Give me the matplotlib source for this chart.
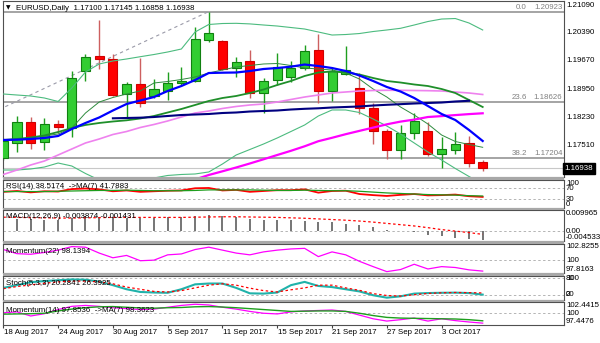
import matplotlib
matplotlib.use("Agg")
import matplotlib.pyplot as plt
import matplotlib.transforms as mtransforms
import numpy as np

plt.rcParams['font.family'] = ['Liberation Sans', 'DejaVu Sans']
plt.rcParams['font.size'] = 5.7

# EURUSD daily, 18 Aug - 6 Oct 2017
date_labels = ["18 Aug 2017", "24 Aug 2017", "30 Aug 2017", "5 Sep 2017", "11 Sep 2017",
               "15 Sep 2017", "21 Sep 2017", "27 Sep 2017", "3 Oct 2017"]
label_every = 4

opens = [1.17188, 1.17585, 1.18120, 1.17610, 1.18053, 1.17952, 1.19418, 1.19792, 1.19708, 1.18817,
         1.19072, 1.18781, 1.18909, 1.19114, 1.19150, 1.20200, 1.20182, 1.19495, 1.19665, 1.18843,
         1.19182, 1.19250, 1.19478, 1.19945, 1.18909, 1.19334, 1.18970, 1.18461, 1.17891, 1.17400,
         1.17825, 1.17883, 1.17298, 1.17400, 1.17570, 1.17100]
highs = [1.17705, 1.18265, 1.18250, 1.18206, 1.18163, 1.19418, 1.19843, 1.20708, 1.19843, 1.19130,
         1.19750, 1.19199, 1.19392, 1.19520, 1.20538, 1.20923, 1.20210, 1.19758, 1.19945, 1.19225,
         1.19861, 1.19674, 1.20072, 1.20344, 1.19520, 1.20046, 1.19352, 1.18603, 1.17926, 1.18036,
         1.18334, 1.18120, 1.17723, 1.17858, 1.17756, 1.17145]
lows = [1.17145, 1.17356, 1.17418, 1.17400, 1.17825, 1.17723, 1.19163, 1.19461, 1.18770, 1.18206,
        1.18486, 1.18715, 1.18672, 1.19050, 1.19120, 1.20157, 1.19436, 1.19249, 1.18714, 1.18349,
        1.19050, 1.19120, 1.19436, 1.18589, 1.18647, 1.19309, 1.18316, 1.17552, 1.17163, 1.17163,
        1.17679, 1.17247, 1.16934, 1.17298, 1.16974, 1.16858]
closes = [1.17636, 1.18120, 1.17590, 1.18061, 1.17985, 1.19224, 1.19774, 1.19715, 1.18799, 1.19072,
          1.18588, 1.18952, 1.19097, 1.19156, 1.20217, 1.20370, 1.19461, 1.19632, 1.18843, 1.19156,
          1.19520, 1.19495, 1.19927, 1.18909, 1.19411, 1.19436, 1.18461, 1.17891, 1.17400, 1.17825,
          1.18138, 1.17298, 1.17417, 1.17545, 1.17061, 1.16938]

ma_blue = [1.17654, 1.17662, 1.17680, 1.17705, 1.17756, 1.17934, 1.18087, 1.18227, 1.18405, 1.18570,
           1.18659, 1.18748, 1.18901, 1.19028, 1.19181, 1.19359, 1.19367, 1.19372, 1.19410, 1.19461,
           1.19486, 1.19520, 1.19575, 1.19537, 1.19486, 1.19410, 1.19296, 1.19156, 1.19003, 1.18888,
           1.18723, 1.18519, 1.18316, 1.18163, 1.17909, 1.17629]
bb_mid = [1.17654, 1.17680, 1.17718, 1.17769, 1.17858, 1.17959, 1.18036, 1.18087, 1.18125, 1.18155,
          1.18201, 1.18265, 1.18354, 1.18443, 1.18545, 1.18647, 1.18723, 1.18774, 1.18850, 1.18939,
          1.19054, 1.19156, 1.19283, 1.19372, 1.19397, 1.19372, 1.19321, 1.19232, 1.19156, 1.19117,
          1.19067, 1.19028, 1.18952, 1.18850, 1.18672, 1.18494]
bb_upper = [1.18825, 1.18799, 1.18774, 1.18723, 1.18634, 1.18977, 1.19385, 1.19589, 1.19665, 1.19716,
            1.19774, 1.19830, 1.19894, 1.19970, 1.20403, 1.20594, 1.20619, 1.20624, 1.20609, 1.20581,
            1.20555, 1.20517, 1.20479, 1.20403, 1.20326, 1.20339, 1.20364, 1.20415, 1.20454, 1.20497,
            1.20581, 1.20670, 1.20733, 1.20746, 1.20632, 1.20454]
bb_lower = [1.16890, 1.16890, 1.16916, 1.16966, 1.17068, 1.16992, 1.16801, 1.16636, 1.16534, 1.16483,
            1.16534, 1.16687, 1.16751, 1.16776, 1.16789, 1.16840, 1.17043, 1.17272, 1.17412, 1.17552,
            1.17705, 1.17870, 1.18036, 1.18265, 1.18418, 1.18418, 1.18354, 1.18188, 1.18010, 1.17806,
            1.17578, 1.17349, 1.17145, 1.16929, 1.16725, 1.16534]
ma_fast = [1.17654, 1.17680, 1.17705, 1.17756, 1.17807, 1.17959, 1.18341, 1.18621, 1.18736, 1.18825,
           1.18901, 1.19105, 1.19143, 1.19194, 1.19257, 1.19359, 1.19436, 1.19512, 1.19550, 1.19589,
           1.19601, 1.19550, 1.19486, 1.19461, 1.19436, 1.19359, 1.19206, 1.18952, 1.18748, 1.18494,
           1.18290, 1.18061, 1.17781, 1.17616, 1.17539, 1.17468]
ma_violet = [1.16776, 1.16890, 1.17018, 1.17119, 1.17272, 1.17425, 1.17578, 1.17679, 1.17794, 1.17870,
             1.17972, 1.18049, 1.18138, 1.18239, 1.18341, 1.18392, 1.18456, 1.18507, 1.18545, 1.18570,
             1.18621, 1.18685, 1.18748, 1.18799, 1.18850, 1.18876, 1.18901, 1.18914, 1.18919, 1.18919,
             1.18914, 1.18909, 1.18901, 1.18876, 1.18850, 1.18812]
nan = np.nan
ma_navy = [nan] * 8 + [1.18206, 1.18214, 1.18222, 1.18239, 1.18265, 1.18290, 1.18303, 1.18316, 1.18341,
                       1.18354, 1.18379, 1.18392, 1.18405, 1.18430, 1.18448, 1.18461, 1.18481, 1.18494,
                       1.18507, 1.18532, 1.18550, 1.18566, 1.18583, 1.18596, 1.18608, 1.18634, 1.18652, nan]
ma_magenta = [nan] * 14 + [1.16649, 1.16763, 1.16857, 1.16954, 1.17056, 1.17163, 1.17272, 1.17379,
                           1.17494, 1.17623, 1.17710, 1.17802, 1.17886, 1.17969, 1.18053, 1.18122,
                           1.18173, 1.18239, 1.18262, 1.18288, 1.18313, 1.18334]

fib_levels = [0.0, 23.6, 38.2]
fib_prices = [1.20923, 1.18626, 1.17204]
fib_anchor_bars = [-0.3, 15]
fib_anchor_prices = [1.18430, 1.20923]

price_ticks = [1.21090, 1.20390, 1.19670, 1.18950, 1.18230, 1.17510, 1.16810]

rsi = [57, 60, 55, 59, 58, 67, 69, 66, 59, 62, 57, 59, 61, 62, 70, 71, 62, 64, 57, 60,
       63, 63, 66, 54, 60, 61, 49, 45, 42, 46, 49, 44, 45, 47, 41, 38.52]
rsi_ma = [58, 58, 58, 58, 59, 60, 61, 62, 62, 63, 62, 61, 61, 61, 62, 64, 64, 64, 64, 63,
          62, 62, 63, 62, 61, 61, 59, 56, 53, 51, 49, 47, 46, 45, 43, 41.79]

macd = [0.00546, 0.00594, 0.00578, 0.00546, 0.00546, 0.00625, 0.00704, 0.00673, 0.00657, 0.00625,
        0.00625, 0.00625, 0.00657, 0.00657, 0.00720, 0.00752, 0.00704, 0.00657, 0.00594, 0.00546,
        0.00515, 0.00515, 0.00499, 0.00420, 0.00420, 0.00356, 0.00309, 0.00198, 0.00040, 0.00008,
        -0.00035, -0.00190, -0.00240, -0.00300, -0.00360, -0.00387]
macd_signal = [0.0066, 0.0065, 0.0064, 0.0063, 0.0062, 0.0062, 0.0063, 0.0064, 0.0065, 0.0065,
               0.0065, 0.0065, 0.0065, 0.0065, 0.0066, 0.0067, 0.0068, 0.0068, 0.0067, 0.0066,
               0.0065, 0.0063, 0.0061, 0.0058, 0.0055, 0.0052, 0.0048, 0.0043, 0.0037, 0.0031,
               0.0025, 0.0017, 0.0008, 0.0001, -0.0006, -0.00143]

mom22 = [101.8, 101.1, 101.0, 101.3, 101.7, 102.3, 102.2, 101.2, 100.4, 100.8, 99.9, 100.0,
         100.9, 101.05, 101.8, 102.2, 101.7, 101.2, 100.9, 101.4, 101.7, 101.9, 102.0, 100.6,
         101.4, 100.9, 99.8, 98.9, 98.05, 98.4, 99.3, 98.5, 98.9, 98.75, 98.35, 98.14]

stoch_main = [45, 55, 66, 70, 73, 76, 75, 68, 55, 40, 30, 28, 27, 40, 58, 61, 61, 45, 25, 24,
              28, 55, 67, 52, 48, 40, 32, 18, 9, 14, 24, 26, 27, 27.5, 26, 20.28]
stoch_signal = [42, 50, 56, 62, 67, 70, 70, 67, 60, 48, 40, 32, 30, 35, 45, 55, 60, 55, 44, 35,
                30, 38, 45, 55, 55, 45, 36, 24, 17, 15, 20, 24.6, 27, 28, 27.5, 26.39]

mom14 = [100.1, 100.3, 99.4, 99.9, 100.8, 101.5, 101.7, 101.5, 101.2, 101.0, 100.8, 100.9,
         101.3, 101.7, 101.95, 101.8, 101.3, 100.9, 100.4, 100.0, 99.85, 100.3, 100.5, 100.6,
         100.7, 100.4, 99.6, 98.8, 98.3, 98.6, 98.95, 98.3, 98.8, 98.4, 98.1, 97.85]
mom14_ma = [99.8, 99.85, 99.9, 100.0, 100.5, 100.9, 101.2, 101.4, 101.45, 101.3, 101.15, 101.1,
            101.2, 101.25, 101.4, 101.45, 101.35, 101.2, 101.0, 100.8, 100.6, 100.4, 100.45, 100.5,
            100.5, 100.4, 100.0, 99.5, 99.1, 98.95, 98.9, 98.85, 98.8, 98.75, 98.6, 98.36]

# ---------------------------------------------------------------
W, H = 600.0, 343.0
LEFT, RIGHT = 2.5, 563.5
LBL_X = 566.0
fig = plt.figure(figsize=(6.0, 3.43), dpi=100)
fig.patch.set_facecolor('white')
x = np.arange(len(closes))


def pix_text(px, py, s, **kw):
    kw.setdefault('va', 'center')
    return fig.text(px / W, 1 - py / H, s, **kw)


def panel(top, bottom, ylim):
    ax = fig.add_axes([LEFT / W, 1 - bottom / H, (RIGHT - LEFT) / W, (bottom - top) / H])
    ax.set_xlim(-0.06, 40.9)
    ax.set_ylim(*ylim)
    ax.set_xticks([])
    ax.set_yticks([])
    for s in ax.spines.values():
        s.set_color('#505050')
        s.set_linewidth(0.8)
    return ax


def right_label(ax, val, s, va='center'):
    tr = mtransforms.blended_transform_factory(fig.transFigure, ax.transData)
    ax.text(LBL_X / W, val, s, transform=tr, va=va, ha='left', clip_on=False)


def level(ax, val):
    ax.axhline(val, color='#b4b4b4', lw=0.7, ls=(0, (2.5, 2.5)), zorder=1)


panels = [(1, 177), (180, 207.5), (210, 241), (243.5, 273), (275.5, 300), (302, 325)]

# separators between windows
for (t1, b1), (t2, b2) in zip(panels[:-1], panels[1:]):
    fig.add_artist(plt.Rectangle((LEFT / W, 1 - t2 / H), (RIGHT - LEFT) / W, (t2 - b1) / H,
                                 transform=fig.transFigure, color='#a8a8a8', lw=0))

# ---------------- main chart ----------------
ax = panel(*panels[0], ylim=(1.16712, 1.21192))
o, h, l, c = map(np.array, (opens, highs, lows, closes))
up = c >= o
ax.vlines(x[up], l[up], h[up], color='#1e9e1e', lw=1.0, zorder=2)
ax.vlines(x[~up], l[~up], h[~up], color='#cd6060', lw=1.0, zorder=2)
body = np.maximum(np.abs(c - o), 0.00008)
ax.bar(x[up], body[up], bottom=o[up], width=0.66, color='#32cd32', edgecolor='#108010',
       lw=0.8, zorder=3)
ax.bar(x[~up], body[~up], bottom=np.minimum(o, c)[~up], width=0.66, color='#ff0000',
       edgecolor='#d00000', lw=0.8, zorder=3)

for p in fib_prices:
    ax.axhline(p, color='#8c8c8c', lw=1.1, zorder=1)
ax.axhline(closes[-1], color='#c8c8c8', lw=0.8, zorder=1)
ax.plot(fib_anchor_bars, fib_anchor_prices, color='#9a9aa8', lw=0.8, ls=(0, (3, 3)), zorder=1)

ax.plot(x, bb_upper, color='#4cbb7f', lw=0.8, zorder=4)
ax.plot(x, bb_lower, color='#4cbb7f', lw=0.8, zorder=4)
ax.plot(x, ma_fast, color='#2e8b3e', lw=0.7, zorder=4)
ax.plot(x, ma_violet, color='#ee82ee', lw=1.2, zorder=4)
ax.plot(x, bb_mid, color='#1f8f2a', lw=1.3, zorder=4)
ax.plot(x, ma_navy, color='#000080', lw=1.5, zorder=4)
ax.plot(x, ma_magenta, color='#ff00ff', lw=1.6, zorder=4)
ax.plot(x, ma_blue, color='#0000ff', lw=1.6, zorder=5)

tr_axd = mtransforms.blended_transform_factory(ax.transAxes, ax.transData)
fib_num_x = (527 - LEFT) / (RIGHT - LEFT)
for lv, p in zip(fib_levels, fib_prices):
    ax.text(fib_num_x, p + 0.00015, f"{lv:.1f}", transform=tr_axd, ha='right', va='bottom',
            color='#808080')
    ax.text(0.998, p + 0.00015, f"{p:.5f}", transform=tr_axd, ha='right', va='bottom',
            color='#808080')

for p in price_ticks:
    right_label(ax, p, f"{p:.5f}")
tr_fd = mtransforms.blended_transform_factory(fig.transFigure, ax.transData)
ax.text(564.5 / W, closes[-1], f"{closes[-1]:.5f}", transform=tr_fd, va='center', ha='left',
        color='white', clip_on=False, zorder=10,
        bbox=dict(boxstyle='square,pad=0.25', fc='black', ec='black'))

pix_text(5.5, 8, "\u25bc", fontsize=4.2, family=['DejaVu Sans'])
pix_text(16, 8, "EURUSD,Daily  " + " ".join(f"{v:.5f}" for v in
                                           (opens[-1], highs[-1], lows[-1], closes[-1])))

# ---------------- RSI ----------------
ax = panel(*panels[1], ylim=(0, 100))
level(ax, 70)
level(ax, 30)
ax.plot(x, rsi, color='#ff0000', lw=1.3)
ax.plot(x, rsi_ma, color='#1e9e1e', lw=0.9)
pix_text(6, 186, "RSI(14) 38.5174  ->MA(7) 41.7883")
right_label(ax, 100, "100", va='top')
right_label(ax, 70, "70")
right_label(ax, 30, "30")
right_label(ax, 0, "0", va='bottom')

# ---------------- MACD ----------------
ax = panel(*panels[2], ylim=(-0.004533, 0.009965))
level(ax, 0)
ax.vlines(x, 0, macd, color='#6a6a6a', lw=1.3)
ax.plot(x, macd_signal, color='#ff0000', lw=0.9, ls=(0, (2, 2)))
pix_text(6, 216, "MACD(12,26,9) -0.003874 -0.001431")
right_label(ax, 0.009965, "0.009965", va='top')
right_label(ax, 0, "0.00")
right_label(ax, -0.004533, "-0.004533", va='bottom')

# ---------------- Momentum(22) ----------------
ax = panel(*panels[3], ylim=(97.8163, 102.8255))
level(ax, 100)
ax.plot(x, mom22, color='#ff00ff', lw=0.9)
pix_text(6, 251.5, "Momentum(22) 98.1394")
right_label(ax, 102.8255, "102.8255", va='top')
right_label(ax, 100, "100")
right_label(ax, 97.8163, "97.8163", va='bottom')

# ---------------- Stochastic ----------------
ax = panel(*panels[4], ylim=(0.5, 90.5))
level(ax, 80)
level(ax, 20)
ax.plot(x, stoch_main, color='#20b2aa', lw=1.5)
ax.plot(x, stoch_signal, color='#ff0000', lw=0.9, ls=(0, (2, 2)))
pix_text(6, 283.5, "Stoch(5,3,3) 20.2841 26.3925")
right_label(ax, 80, "100")
right_label(ax, 80, "80")
right_label(ax, 20, "20")
right_label(ax, 20, "0")

# ---------------- Momentum(14) ----------------
ax = panel(*panels[5], ylim=(97.4476, 102.4415))
level(ax, 100)
ax.plot(x, mom14, color='#ff00ff', lw=0.9)
ax.plot(x, mom14_ma, color='#1e9e1e', lw=1.0)
pix_text(6, 310.5, "Momentum(14) 97.8536  ->MA(7) 98.3623")
right_label(ax, 102.4415, "102.4415", va='top')
right_label(ax, 100, "100")
right_label(ax, 97.4476, "97.4476", va='bottom')

# date axis under the last window
tick_bars = np.arange(len(date_labels)) * label_every
ax.vlines(tick_bars, -0.14, 0, transform=ax.get_xaxis_transform(), color='#404040', lw=0.8,
          clip_on=False)
tr_xd = mtransforms.blended_transform_factory(ax.transData, fig.transFigure)
for b, s in zip(tick_bars, date_labels):
    ax.text(b + 0.03, 1 - 333 / H, s, transform=tr_xd, ha='left', va='center')

fig.savefig("out.png", dpi=100, facecolor='white')
